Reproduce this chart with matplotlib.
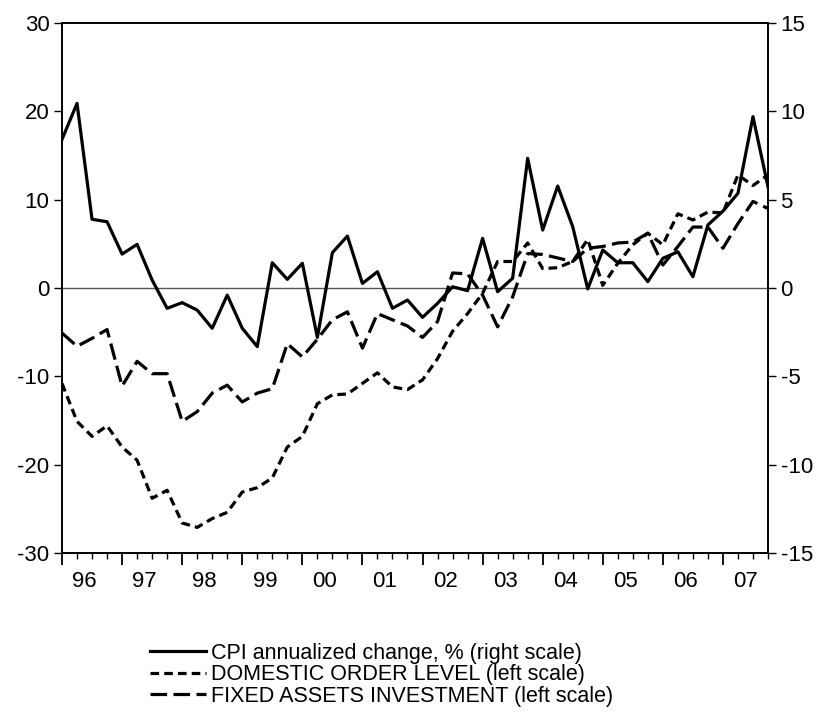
import matplotlib
matplotlib.use("Agg")
import matplotlib.pyplot as plt
import numpy as np

plt.rcParams['font.family'] = ['Liberation Sans', 'DejaVu Sans']
plt.rcParams['axes.unicode_minus'] = False

years = ["96", "97", "98", "99", "00", "01", "02", "03", "04", "05", "06", "07"]

cpi = [8.41, 10.45, 3.89, 3.75, 1.92, 2.47, 0.45, -1.15, -0.83, -1.25, -2.28, -0.40,
       -2.28, -3.32, 1.43, 0.49, 1.40, -2.80, 2.00, 2.94, 0.26, 0.92, -1.15, -0.68,
       -1.66, -0.87, 0.07, -0.15, 2.81, -0.21, 0.55, 7.34, 3.28, 5.77, 3.47, -0.05,
       2.15, 1.43, 1.43, 0.36, 1.68, 2.05, 0.64, 3.57, 4.35, 5.36, 9.70, 5.73]

domestic = [-10.8, -15.1, -16.8, -15.6, -18.0, -19.5, -23.8, -22.9, -26.6, -27.1, -26.1, -25.4,
            -23.1, -22.6, -21.5, -18.0, -16.8, -13.1, -12.1, -12.0, -10.8, -9.6, -11.2, -11.5,
            -10.4, -8.0, -4.9, -2.9, -0.6, 3.0, 3.0, 5.1, 2.2, 2.3, 3.0, 5.5,
            0.3, 2.8, 4.9, 6.2, 4.9, 8.4, 7.7, 8.6, 8.5, 12.8, 11.6, 12.8]

fixed = [-5.1, -6.6, -5.7, -4.7, -11.1, -8.3, -9.7, -9.7, -15.1, -14.0, -11.9, -11.0,
         -12.9, -11.9, -11.4, -6.3, -7.8, -5.8, -3.6, -2.7, -6.8, -2.9, -3.6, -4.3,
         -5.6, -3.8, 1.7, 1.6, -0.8, -4.4, -1.0, 3.9, 3.8, 3.4, 3.0, 4.5,
         4.7, 5.1, 5.2, 6.2, 2.6, 4.7, 6.9, 6.9, 4.5, 7.3, 9.8, 9.0]

labels = ["CPI annualized change, % (right scale)",
          "DOMESTIC ORDER LEVEL (left scale)",
          "FIXED ASSETS INVESTMENT (left scale)"]

W, H = 825, 722
fig = plt.figure(figsize=(W / 100, H / 100), dpi=100)
L, R, T, B = 62, 768, 23, 553
ax = fig.add_axes([L / W, 1 - B / H, (R - L) / W, (B - T) / H])
ax2 = ax.twinx()

x = np.arange(len(cpi))
lw = 2.3
ax.axhline(0, color='#555555', lw=1.0, zorder=1)
l2, = ax.plot(x, domestic, color='black', lw=lw, linestyle=(0, (2.7, 1.6)), zorder=3)
l3, = ax.plot(x, fixed, color='black', lw=lw, linestyle=(0, (5.2, 2.0)), zorder=3)
l1, = ax2.plot(x, cpi, color='black', lw=lw, zorder=4)

ax.set_xlim(0, len(cpi) - 1)
ax.set_ylim(-30, 30)
ax2.set_ylim(-15, 15)
ax.set_yticks([-30, -20, -10, 0, 10, 20, 30])
ax2.set_yticks([-15, -10, -5, 0, 5, 10, 15])

ax.set_xticks(np.arange(0, len(cpi), 4))
ax.set_xticks(np.arange(0, len(cpi), 1), minor=True)
ax.tick_params(axis='x', which='major', length=8.5, width=1.3, direction='out', labelbottom=False)
ax.tick_params(axis='x', which='minor', length=4.3, width=1.0, direction='out')
ax.tick_params(axis='y', length=6, width=1.0, labelsize=16, pad=3)
ax2.tick_params(axis='y', length=6, width=1.0, labelsize=16, pad=3)

sec = ax.secondary_xaxis('bottom')
sec.set_xticks(np.arange(len(years)) * 4 + 1.5)
sec.set_xticklabels(years)
sec.tick_params(length=0, labelsize=16, pad=13)
sec.spines['bottom'].set_visible(False)

for a in (ax, ax2):
    for s in a.spines.values():
        s.set_linewidth(1.2)

leg = fig.legend([l1, l2, l3], labels, loc='upper left',
                 bbox_to_anchor=(150 / W, 1 - 643 / H), frameon=False,
                 fontsize=15.5, handlelength=2.6, handletextpad=0.22,
                 labelspacing=0.02, borderpad=0, borderaxespad=0)

fig.savefig("out.png", dpi=100)
